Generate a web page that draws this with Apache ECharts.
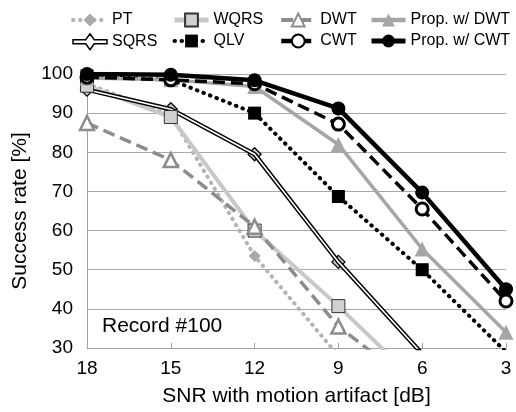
<!DOCTYPE html>
<html>
<head>
<meta charset="utf-8">
<style>
  html, body { margin: 0; padding: 0; background: #fff; }
  #chart { width: 516px; height: 412px; }
</style>
<script src="https://cdn.jsdelivr.net/npm/echarts@6/dist/echarts.min.js"></script>
</head>
<body>
<div id="chart"></div>
<script>
// SNR levels (dB) along the x axis
const snrLevels = ['18', '15', '12', '9', '6', '3'];

// Success rate [%] per detector; values below 30 run off the plot floor
const ptRate      = [97.5, 89.5, 53.5, 28, null, null];
const wqrsRate    = [97, 89, 60, 40.7, 20, null];
const dwtRate     = [87.5, 78, 61, 35.5, 19, null];
const sqrsRate    = [96, 91, 79.5, 52, 28.5, null];
const qlvRate     = [99.5, 98.5, 90, 68.7, 50, 29];
const propDwtRate = [99, 98.5, 96.8, 82, 55.3, 34];
const cwtRate     = [99.2, 98.5, 97.5, 87.2, 65.5, 42];
const propCwtRate = [100, 99.8, 98.4, 91.2, 69.7, 45];

// y axis range and step
const yMin = 30, yMax = 100, yStep = 10;

const FONT = 'Liberation Sans, Arial, sans-serif';
const dots = [0.5, 6.5];
const dashes = [12, 6];

// Double-line glyph with a diamond, used as the SQRS legend icon
const sqrsIcon = 'path://M0 6 L12.71 6 L17 0 L21.29 6 L34 6 L34 10 L21.29 10 L17 16 L12.71 10 L0 10 Z';

const chart = echarts.init(document.getElementById('chart'));

function item(name, width) {
  return { name: name, lineStyle: { width: width } };
}

function legendColumn(left, names) {
  return {
    orient: 'vertical',
    left: left,
    top: 12,
    itemWidth: 34,
    itemHeight: 16,
    itemGap: 5,
    padding: 0,
    selectedMode: false,
    textStyle: { fontFamily: FONT, fontSize: 16, color: '#000' },
    data: names
  };
}

chart.setOption({
  animation: false,
  backgroundColor: '#fff',
  title: {
    text: 'Record #100',
    left: 102,
    top: 316,
    padding: 0,
    textStyle: { fontFamily: FONT, fontSize: 21, fontWeight: 'normal', color: '#000' }
  },
  legend: [
    legendColumn(71, [item('PT', 4), {
      name: 'SQRS', icon: sqrsIcon,
      itemStyle: { color: '#fff', borderColor: '#000', borderWidth: 1.5 }
    }]),
    legendColumn(172, [item('WQRS', 5), item('QLV', 4)]),
    legendColumn(279, [item('DWT', 4), item('CWT', 4.5)]),
    legendColumn(369, [item('Prop. w/ DWT', 4.5), item('Prop. w/ CWT', 5)])
  ],
  grid: { left: 87, right: 10, top: 74, bottom: 63 },
  xAxis: {
    type: 'category',
    data: snrLevels,
    boundaryGap: false,
    name: 'SNR with motion artifact [dB]',
    nameLocation: 'middle',
    nameGap: 38,
    nameTextStyle: { fontFamily: FONT, fontSize: 21, color: '#000' },
    axisLine: { lineStyle: { color: '#a0a0a0', width: 1 } },
    axisTick: { show: true, inside: true, length: 5, lineStyle: { color: '#a0a0a0' } },
    axisLabel: { fontFamily: FONT, fontSize: 19, color: '#000', margin: 11 },
    splitLine: { show: false }
  },
  yAxis: {
    type: 'value',
    min: yMin,
    max: yMax,
    interval: yStep,
    name: 'Success rate [%]',
    nameLocation: 'middle',
    nameGap: 51,
    nameTextStyle: { fontFamily: FONT, fontSize: 21, color: '#000' },
    axisLine: { show: true, lineStyle: { color: '#a0a0a0', width: 1 } },
    axisTick: { show: false },
    axisLabel: { fontFamily: FONT, fontSize: 19, color: '#000', margin: 14 },
    splitLine: { lineStyle: { color: '#a8a8a8', width: 1 } }
  },
  series: [
    {
      name: 'PT', type: 'line', data: ptRate,
      symbol: 'diamond', symbolSize: 12,
      itemStyle: { color: '#a8a8a8' },
      lineStyle: { color: '#b4b4b4', width: 4, type: dots, cap: 'round' }
    },
    {
      name: 'WQRS', type: 'line', data: wqrsRate,
      symbol: 'rect', symbolSize: 13,
      itemStyle: { color: '#d0d0d0', borderColor: '#333', borderWidth: 1 },
      lineStyle: { color: '#c8c8c8', width: 4 }
    },
    {
      name: 'DWT', type: 'line', data: dwtRate,
      symbol: 'triangle', symbolSize: 14,
      itemStyle: { color: '#fff', borderColor: '#8c8c8c', borderWidth: 2.5 },
      lineStyle: { color: '#8c8c8c', width: 3.5, type: dashes }
    },
    {
      name: 'SQRS', type: 'line', data: sqrsRate,
      symbol: 'none',
      itemStyle: { color: '#000' },
      lineStyle: { color: '#000', width: 4.5 }
    },
    {
      name: 'sqrsCore', type: 'line', data: sqrsRate,
      symbol: 'none', silent: true,
      lineStyle: { color: '#fff', width: 1.6 }
    },
    {
      name: 'sqrsMarks', type: 'scatter', data: sqrsRate,
      symbol: 'diamond', symbolSize: 13,
      itemStyle: { color: '#d0d0d0', borderColor: '#000', borderWidth: 1.3, opacity: 1 }
    },
    {
      name: 'QLV', type: 'line', data: qlvRate,
      symbol: 'rect', symbolSize: 13,
      itemStyle: { color: '#000' },
      lineStyle: { color: '#000', width: 4, type: dots, cap: 'round' }
    },
    {
      name: 'Prop. w/ DWT', type: 'line', data: propDwtRate,
      symbol: 'triangle', symbolSize: 15,
      itemStyle: { color: '#a6a6a6' },
      lineStyle: { color: '#a6a6a6', width: 3.5 }
    },
    {
      name: 'CWT', type: 'line', data: cwtRate,
      symbol: 'circle', symbolSize: 12,
      itemStyle: { color: '#fff', borderColor: '#000', borderWidth: 3 },
      lineStyle: { color: '#000', width: 3.5, type: dashes }
    },
    {
      name: 'Prop. w/ CWT', type: 'line', data: propCwtRate,
      symbol: 'circle', symbolSize: 14,
      itemStyle: { color: '#000' },
      lineStyle: { color: '#000', width: 4.5 }
    }
  ]
});
</script>
</body>
</html>
